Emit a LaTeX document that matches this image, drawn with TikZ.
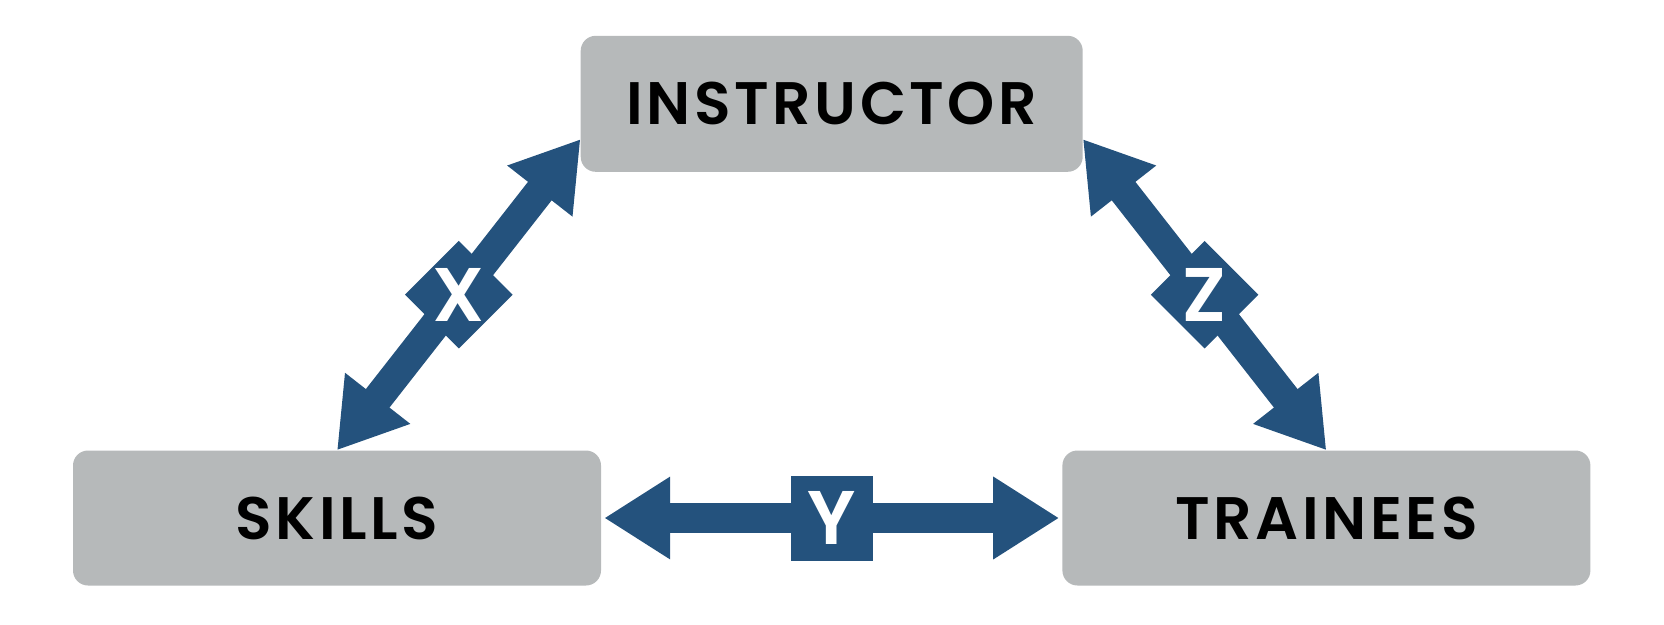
\documentclass[tikz,border=0pt]{standalone}
\usepackage{fontspec}
\setmainfont{Poppins}
\newfontfamily\boxfont{Poppins SemiBold}[LetterSpace=6]
\newfontfamily\tagfont{Poppins SemiBold}
\usetikzlibrary{arrows.meta, positioning, calc, shapes.geometric}
\definecolor{tieblue}{HTML}{24527D}
\definecolor{boxgray}{HTML}{B6B9BA}

\begin{document}
\begin{tikzpicture}[
  x=1pt, y=-1pt,
  box/.style={rectangle, fill=boxgray, rounded corners=15pt, align=center, font=\boxfont\fontsize{60}{62}\selectfont, minimum width=528pt, minimum height=135pt, inner sep=0pt},
  tag/.style={diamond, fill=tieblue, text=white, font=\tagfont\fontsize{76}{78}\selectfont, minimum width=120pt, minimum height=120pt, inner sep=0pt},
  tagbox/.style={rectangle, fill=tieblue, text=white, font=\tagfont\fontsize{76}{78}\selectfont, minimum width=82pt, minimum height=85pt, inner sep=0pt},
  link/.style={{Triangle[length=66pt, width=78pt]}-{Triangle[length=66pt, width=78pt]}, line width=30pt, color=tieblue}
]
  \useasboundingbox (0,0) rectangle (1664,624);

  \node[box] (skills) at (337,518) {SKILLS};
  \node[box, right=461pt of skills] (trainees) {TRAINEES};
  \node[box, minimum width=502pt, minimum height=136pt, above=346pt of $(skills)!0.5!(trainees)$] (instructor) {INSTRUCTOR};

  \draw[link] (skills.north) -- node[tag] (x) {X} (instructor.188);
  \draw[link] (instructor.-8) -- node[tag] (z) {Z} (trainees.north);
  \draw[link, shorten <=3pt, shorten >=3pt] (skills.east) -- node[tagbox] (y) {Y} (trainees.west);
\end{tikzpicture}
\end{document}
